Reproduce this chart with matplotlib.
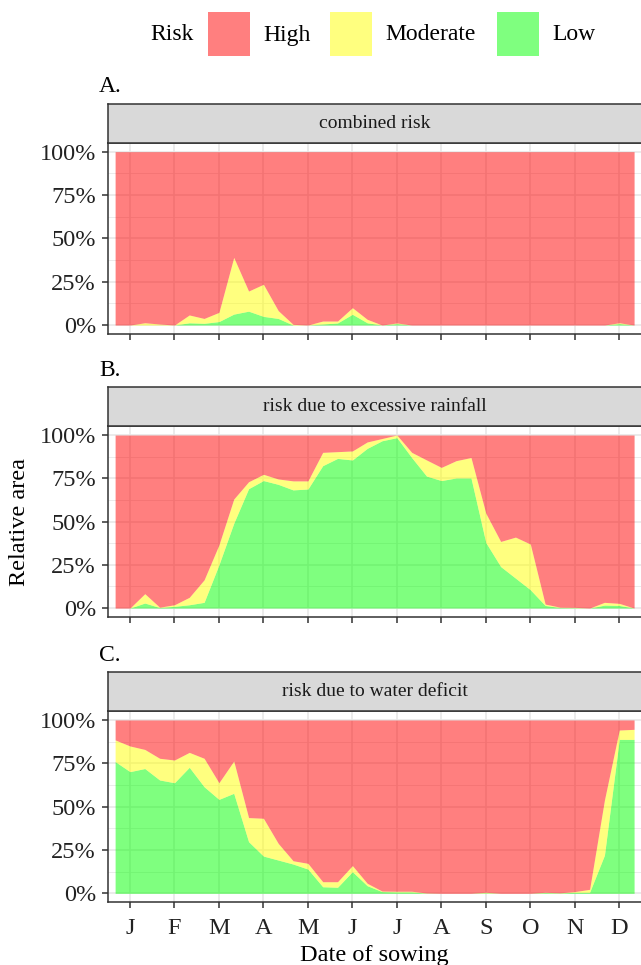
import numpy as np
import matplotlib
matplotlib.use("Agg")
import matplotlib.pyplot as plt
from matplotlib.patches import Rectangle
from matplotlib.ticker import FuncFormatter, MultipleLocator

plt.rcParams["font.family"] = ["Liberation Serif", "DejaVu Serif"]

# sowing dates: 36 dekads (3 per month), month ticks on the 2nd dekad
dekad = np.arange(36)
month_labels = ["J", "F", "M", "A", "M", "J", "J", "A", "S", "O", "N", "D"]
month_ticks = dekad[1::3]

risk_classes = ["High", "Moderate", "Low"]
risk_colors = ["#FF0000", "#FFFF00", "#00FF00"]

# share of area (%) per dekad; High is the remainder
low_combined = [0, 0, 0, 0, 0, 1.3, 1.0, 2.0, 6.3, 8.0, 5.0, 3.8, 0, 0, 0.6, 1.2, 6.2, 1.3,
                0, 0.8, 0, 0, 0, 0, 0, 0, 0, 0, 0, 0, 0, 0, 0, 0, 0.8, 0]
mod_combined = [0, 0, 1.3, 0.6, 0, 4.5, 2.8, 5.3, 32.7, 11.6, 18.5, 4.5, 0.4, 0, 1.7, 1.1, 3.8, 2.0,
                0, 0.4, 0, 0, 0, 0, 0, 0, 0, 0, 0, 0, 0, 0, 0, 0, 0.5, 0]

low_rain = [0, 0, 2.9, 0.3, 1.0, 1.9, 3.3, 25, 49, 69, 73.7, 71.5, 68.3, 68.8, 82.3, 86.5, 85.6, 92.3,
            96.7, 98.5, 87, 76.3, 73.7, 75.2, 75.2, 37.9, 24, 17.3, 10.6, 1.5, 0.3, 0.2, 0, 1.7, 1.5, 0]
mod_rain = [0, 0, 5.4, 0.2, 0.9, 4.3, 13.0, 11.5, 14, 4, 3.6, 3.1, 5.2, 4.7, 7.7, 3.9, 5.2, 3.7,
            1.3, 1.5, 3, 9.3, 7.6, 10, 11.8, 16.9, 14.5, 23.7, 26.4, 0.8, 0.2, 0.2, 0, 1.6, 1.2, 0]

low_deficit = [76, 70.2, 72, 65.4, 63.8, 72.7, 61.5, 54.2, 57.7, 29.8, 21.5, 19.2, 16.9, 14, 3.8, 3.5,
               12.5, 4.4, 1.0, 0.8, 0.8, 0.1, 0, 0, 0, 0.3, 0, 0, 0, 0.4, 0.2, 0.6, 0.6, 22, 88.8, 88.8]
mod_deficit = [12.5, 14.8, 11, 12.5, 13.1, 8.6, 16.4, 9.6, 18.6, 13.9, 21.8, 9.6, 1.9, 3.3, 2.9, 3.2,
               3.5, 1.4, 0.3, 0.4, 0.4, 0.1, 0, 0, 0, 0.3, 0, 0, 0, 0.2, 0.1, 0.4, 1.7, 31.8, 5.4, 5.8]

panels = [
    ("A.", "combined risk", low_combined, mod_combined),
    ("B.", "risk due to excessive rainfall", low_rain, mod_rain),
    ("C.", "risk due to water deficit", low_deficit, mod_deficit),
]

W, H = 641, 965
fig = plt.figure(figsize=(W / 100, H / 100), dpi=100)


def fx(px):
    return px / W


def fy(py):
    return 1 - py / H


# panel placement in pixels (top, bottom)
left_px, right_px = 107.7, 641.5
panel_px = [(143.0, 333.7), (426.4, 616.7), (711.3, 902.0)]
strip_h = 39

for i, (tag, strip_text, low, mod) in enumerate(panels):
    top, bot = panel_px[i]
    ax = fig.add_axes([fx(left_px), fy(bot), fx(right_px - left_px), (bot - top) / H])
    low = np.array(low, dtype=float)
    mod = np.array(mod, dtype=float)
    base = np.zeros_like(low)
    for lo, hi, col in [(base, low, risk_colors[2]),
                        (low, low + mod, risk_colors[1]),
                        (low + mod, np.full_like(low, 100.0), risk_colors[0])]:
        ax.fill_between(dekad, lo, hi, color=col, alpha=0.5, lw=0, zorder=2)

    ax.set_xlim(-0.5, 35.5)
    ax.set_ylim(-5, 105)
    ax.set_xticks(month_ticks)
    ax.yaxis.set_major_locator(MultipleLocator(25))
    ax.yaxis.set_minor_locator(MultipleLocator(12.5))
    ax.yaxis.set_major_formatter(FuncFormatter(lambda v, p: f"{v:.0f}%"))
    ax.grid(True, which="major", color="#E6E6E6", lw=1.1, zorder=0)
    ax.grid(True, which="minor", axis="y", color="#E6E6E6", lw=0.55, zorder=0)
    ax.set_axisbelow(True)
    ax.tick_params(axis="both", which="major", length=4.5, width=1.1, color="#333333",
                   labelsize=17.5, labelcolor="#222222", pad=4)
    ax.tick_params(axis="x", which="major", pad=7)
    ax.tick_params(axis="both", which="minor", length=0)
    if i == 2:
        ax.set_xticklabels(month_labels)
        ax.set_xlabel("Date of sowing", fontsize=17.5, labelpad=4)
    else:
        ax.set_xticklabels([])
    if i == 1:
        ax.set_ylabel("Relative area", fontsize=17.5, labelpad=7)
    for s in ax.spines.values():
        s.set_color("#333333")
        s.set_linewidth(1.1)

    # facet strip
    sax = fig.add_axes([fx(left_px), fy(top), fx(right_px - left_px), strip_h / H])
    sax.set_facecolor("#D9D9D9")
    sax.set_xticks([])
    sax.set_yticks([])
    for s in sax.spines.values():
        s.set_color("#333333")
        s.set_linewidth(1.1)
    sax.text(0.5, 0.5, strip_text, transform=sax.transAxes, ha="center", va="center",
             fontsize=14, color="#1A1A1A")

    fig.text(fx(99), fy(top - strip_h - 17), tag, ha="left", va="center", fontsize=17)

# legend across the top
fig.text(fx(150), fy(35), "Risk", ha="left", va="center", fontsize=17)
key_x = [208, 330, 497]
for name, col, kx in zip(risk_classes, risk_colors, key_x):
    fig.patches.append(Rectangle((fx(kx), fy(56)), fx(42), 44 / H, transform=fig.transFigure,
                                 facecolor=col, alpha=0.5, edgecolor="none"))
    fig.text(fx(kx + 55), fy(35), name, ha="left", va="center", fontsize=17)

fig.savefig("out.png", dpi=100)
